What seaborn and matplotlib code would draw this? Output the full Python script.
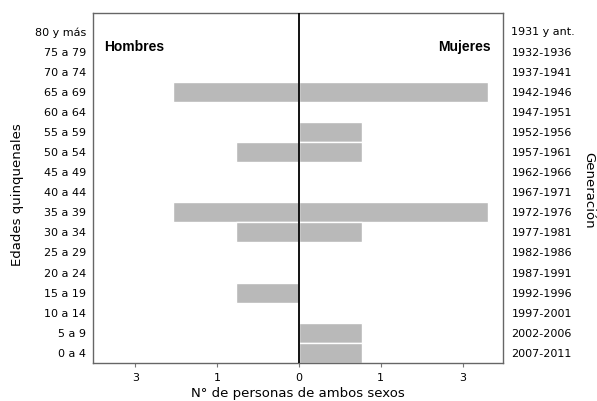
import matplotlib
matplotlib.use("Agg")
import matplotlib.pyplot as plt
import seaborn as sns
import pandas as pd

edades = ["80 y más", "75 a 79", "70 a 74", "65 a 69", "60 a 64", "55 a 59", "50 a 54",
          "45 a 49", "40 a 44", "35 a 39", "30 a 34", "25 a 29", "20 a 24", "15 a 19",
          "10 a 14", "5 a 9", "0 a 4"]
generaciones = ["1931 y ant.", "1932-1936", "1937-1941", "1942-1946", "1947-1951",
                "1952-1956", "1957-1961", "1962-1966", "1967-1971", "1972-1976",
                "1977-1981", "1982-1986", "1987-1991", "1992-1996", "1997-2001",
                "2002-2006", "2007-2011"]
hombres = [0, 0, 0, 2, 0, 0, 1, 0, 0, 2, 1, 0, 0, 1, 0, 0, 0]
mujeres = [0, 0, 0, 3, 0, 1, 1, 0, 0, 3, 1, 0, 0, 0, 0, 1, 1]
xtick_pos = [-2.6, -1.3, 0, 1.3, 2.6]
xtick_labels = ["3", "1", "0", "1", "3"]

sns.set_theme(style="white")
plt.rcParams['font.family'] = ['DejaVu Sans']
for k in ["text.color", "axes.labelcolor", "xtick.color", "ytick.color"]:
    plt.rcParams[k] = "black"

df = pd.DataFrame({"edad": edades,
                   "hombres": [-v for v in hombres],
                   "mujeres": mujeres})

fig = plt.figure(figsize=(5.97, 4.01), dpi=100)
ax = fig.add_axes([93/597, 38/401, 410/597, 350/401])

bar_color = "#b9b9b9"
sns.barplot(data=df, y="edad", x="hombres", order=edades, orient="h", color=bar_color,
            width=1.0, edgecolor="white", linewidth=1, ax=ax, saturation=1)
sns.barplot(data=df, y="edad", x="mujeres", order=edades, orient="h", color=bar_color,
            width=1.0, edgecolor="white", linewidth=1, ax=ax, saturation=1)

ax.set_xlim(-3.27, 3.24)
ax.set_ylim(16.5, -0.92)
ax.axvline(0, color="black", linewidth=1.3, zorder=5)

ax.set_xticks(xtick_pos)
ax.set_xticklabels(xtick_labels, fontsize=8)
ax.tick_params(axis="x", length=3, width=0.8, color="#777777", pad=4, bottom=True)
ax.set_yticks(range(len(edades)))
ax.set_yticklabels(edades, fontsize=8)
ax.tick_params(axis="y", length=0, pad=5)

ax.set_xlabel("N° de personas de ambos sexos", fontsize=9.5)
ax.xaxis.set_label_coords(0.5, -0.068)
ax.set_ylabel("")

for s in ax.spines.values():
    s.set_color("#666666")
    s.set_linewidth(1)

ax.text(-3.1, 0.75, "Hombres", fontsize=10, fontweight="bold", ha="left", va="center",
        family="Liberation Sans")
ax.text(3.05, 0.75, "Mujeres", fontsize=10, fontweight="bold", ha="right", va="center",
        family="Liberation Sans")

ax2 = ax.twinx()
ax2.set_ylim(ax.get_ylim())
ax2.set_yticks(range(len(generaciones)))
ax2.set_yticklabels(generaciones, fontsize=8)
ax2.tick_params(axis="y", length=0, pad=6)
for s in ax2.spines.values():
    s.set_visible(False)

fig.text(18/597, 1 - 195/401, "Edades quinquenales", rotation=90, fontsize=9.5,
         ha="center", va="center")
fig.text(589/597, 1 - 190/401, "Generación", rotation=270, fontsize=9.5,
         ha="center", va="center")

fig.savefig("out.png", dpi=100)
